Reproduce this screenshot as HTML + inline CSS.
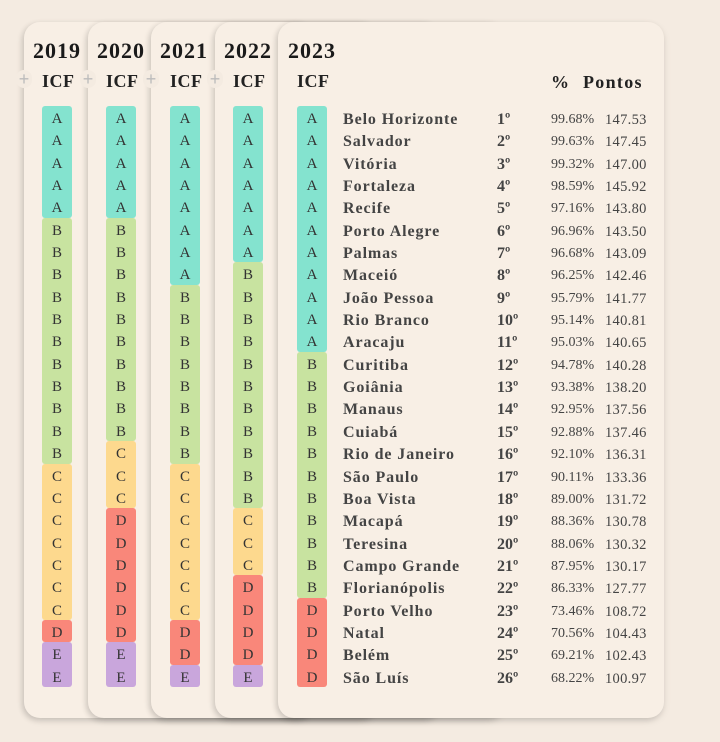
<!DOCTYPE html>
<html><head><meta charset="utf-8"><style>
*{margin:0;padding:0;box-sizing:border-box}
body{width:720px;height:742px;background:#f4ebe1;position:relative;overflow:hidden;font-family:"Liberation Serif",serif;color:#222}
.card{position:absolute;top:22px;height:696px;background:#f8efe5;border-radius:16px;box-shadow:-2px 2px 6px rgba(0,0,0,.13),0 3px 8px rgba(0,0,0,.08)}
.yr{position:absolute;top:38px;font-weight:bold;font-size:22px;letter-spacing:1px;color:#1a1a1a}
.icf{position:absolute;top:71px;font-weight:bold;font-size:18px;letter-spacing:0.5px}
.plus{position:absolute;top:70px;width:16px;height:18px;color:#bbb;font-family:"Liberation Sans",sans-serif;font-size:18px;line-height:18px;text-align:center;background:#f4ebe1;border-radius:8px}
.col{position:absolute;top:106px;width:30px}
.b{border-radius:3px;text-align:center;font-size:15px;color:#333;line-height:22.35px}
.b span{display:block;position:relative;top:2px}
.A{background:#84e3cf}.B{background:#c8e3a0}.C{background:#fdd98e}.D{background:#f9877a}.E{background:#c9a6dc}
.t{position:absolute;left:343px;top:109px;font-size:16px;font-weight:bold;letter-spacing:0.9px;color:#444;line-height:22.35px}
.t div{height:22.35px;white-space:nowrap;position:relative;width:320px}
.t span{position:absolute;top:0}
.r{left:154px;letter-spacing:0}.p{left:208px;font-size:14px;font-weight:normal;letter-spacing:0;color:#444}.q{left:262px;font-size:14.5px;font-weight:normal;letter-spacing:0.3px;color:#444}
</style></head><body>
<div class="card" style="left:24px;width:290px"></div>
<div class="card" style="left:88px;width:290px"></div>
<div class="card" style="left:151px;width:290px"></div>
<div class="card" style="left:215px;width:290px"></div>
<div class="card" style="left:278px;width:386px"></div>

<div class="yr" style="left:33px">2019</div>
<div class="yr" style="left:97px">2020</div>
<div class="yr" style="left:160px">2021</div>
<div class="yr" style="left:224px">2022</div>
<div class="yr" style="left:288px">2023</div>

<div class="plus" style="left:16px">+</div>
<div class="plus" style="left:80px">+</div>
<div class="plus" style="left:143px">+</div>
<div class="plus" style="left:207px">+</div>
<div class="icf" style="left:42px">ICF</div>
<div class="icf" style="left:106px">ICF</div>
<div class="icf" style="left:170px">ICF</div>
<div class="icf" style="left:233px">ICF</div>
<div class="icf" style="left:297px">ICF</div>
<div style="position:absolute;top:72px;left:551px;font-weight:bold;font-size:18px">%</div>
<div style="position:absolute;top:72px;left:583px;font-weight:bold;font-size:18px;letter-spacing:1.3px">Pontos</div>

<div class="col" style="left:42px">
<div class="b A"><span>A<br>A<br>A<br>A<br>A</span></div>
<div class="b B"><span>B<br>B<br>B<br>B<br>B<br>B<br>B<br>B<br>B<br>B<br>B</span></div>
<div class="b C"><span>C<br>C<br>C<br>C<br>C<br>C<br>C</span></div>
<div class="b D"><span>D</span></div>
<div class="b E"><span>E<br>E</span></div>
</div>
<div class="col" style="left:106px">
<div class="b A"><span>A<br>A<br>A<br>A<br>A</span></div>
<div class="b B"><span>B<br>B<br>B<br>B<br>B<br>B<br>B<br>B<br>B<br>B</span></div>
<div class="b C"><span>C<br>C<br>C</span></div>
<div class="b D"><span>D<br>D<br>D<br>D<br>D<br>D</span></div>
<div class="b E"><span>E<br>E</span></div>
</div>
<div class="col" style="left:170px">
<div class="b A"><span>A<br>A<br>A<br>A<br>A<br>A<br>A<br>A</span></div>
<div class="b B"><span>B<br>B<br>B<br>B<br>B<br>B<br>B<br>B</span></div>
<div class="b C"><span>C<br>C<br>C<br>C<br>C<br>C<br>C</span></div>
<div class="b D"><span>D<br>D</span></div>
<div class="b E"><span>E</span></div>
</div>
<div class="col" style="left:233px">
<div class="b A"><span>A<br>A<br>A<br>A<br>A<br>A<br>A</span></div>
<div class="b B"><span>B<br>B<br>B<br>B<br>B<br>B<br>B<br>B<br>B<br>B<br>B</span></div>
<div class="b C"><span>C<br>C<br>C</span></div>
<div class="b D"><span>D<br>D<br>D<br>D</span></div>
<div class="b E"><span>E</span></div>
</div>
<div class="col" style="left:297px">
<div class="b A"><span>A<br>A<br>A<br>A<br>A<br>A<br>A<br>A<br>A<br>A<br>A</span></div>
<div class="b B"><span>B<br>B<br>B<br>B<br>B<br>B<br>B<br>B<br>B<br>B<br>B</span></div>
<div class="b D"><span>D<br>D<br>D<br>D</span></div>
</div>

<div class="t">
<div>Belo Horizonte<span class="r">1º</span><span class="p">99.68%</span><span class="q">147.53</span></div>
<div>Salvador<span class="r">2º</span><span class="p">99.63%</span><span class="q">147.45</span></div>
<div>Vitória<span class="r">3º</span><span class="p">99.32%</span><span class="q">147.00</span></div>
<div>Fortaleza<span class="r">4º</span><span class="p">98.59%</span><span class="q">145.92</span></div>
<div>Recife<span class="r">5º</span><span class="p">97.16%</span><span class="q">143.80</span></div>
<div>Porto Alegre<span class="r">6º</span><span class="p">96.96%</span><span class="q">143.50</span></div>
<div>Palmas<span class="r">7º</span><span class="p">96.68%</span><span class="q">143.09</span></div>
<div>Maceió<span class="r">8º</span><span class="p">96.25%</span><span class="q">142.46</span></div>
<div>João Pessoa<span class="r">9º</span><span class="p">95.79%</span><span class="q">141.77</span></div>
<div>Rio Branco<span class="r">10º</span><span class="p">95.14%</span><span class="q">140.81</span></div>
<div>Aracaju<span class="r">11º</span><span class="p">95.03%</span><span class="q">140.65</span></div>
<div>Curitiba<span class="r">12º</span><span class="p">94.78%</span><span class="q">140.28</span></div>
<div>Goiânia<span class="r">13º</span><span class="p">93.38%</span><span class="q">138.20</span></div>
<div>Manaus<span class="r">14º</span><span class="p">92.95%</span><span class="q">137.56</span></div>
<div>Cuiabá<span class="r">15º</span><span class="p">92.88%</span><span class="q">137.46</span></div>
<div>Rio de Janeiro<span class="r">16º</span><span class="p">92.10%</span><span class="q">136.31</span></div>
<div>São Paulo<span class="r">17º</span><span class="p">90.11%</span><span class="q">133.36</span></div>
<div>Boa Vista<span class="r">18º</span><span class="p">89.00%</span><span class="q">131.72</span></div>
<div>Macapá<span class="r">19º</span><span class="p">88.36%</span><span class="q">130.78</span></div>
<div>Teresina<span class="r">20º</span><span class="p">88.06%</span><span class="q">130.32</span></div>
<div>Campo Grande<span class="r">21º</span><span class="p">87.95%</span><span class="q">130.17</span></div>
<div>Florianópolis<span class="r">22º</span><span class="p">86.33%</span><span class="q">127.77</span></div>
<div>Porto Velho<span class="r">23º</span><span class="p">73.46%</span><span class="q">108.72</span></div>
<div>Natal<span class="r">24º</span><span class="p">70.56%</span><span class="q">104.43</span></div>
<div>Belém<span class="r">25º</span><span class="p">69.21%</span><span class="q">102.43</span></div>
<div>São Luís<span class="r">26º</span><span class="p">68.22%</span><span class="q">100.97</span></div>
</div>
</body></html>
